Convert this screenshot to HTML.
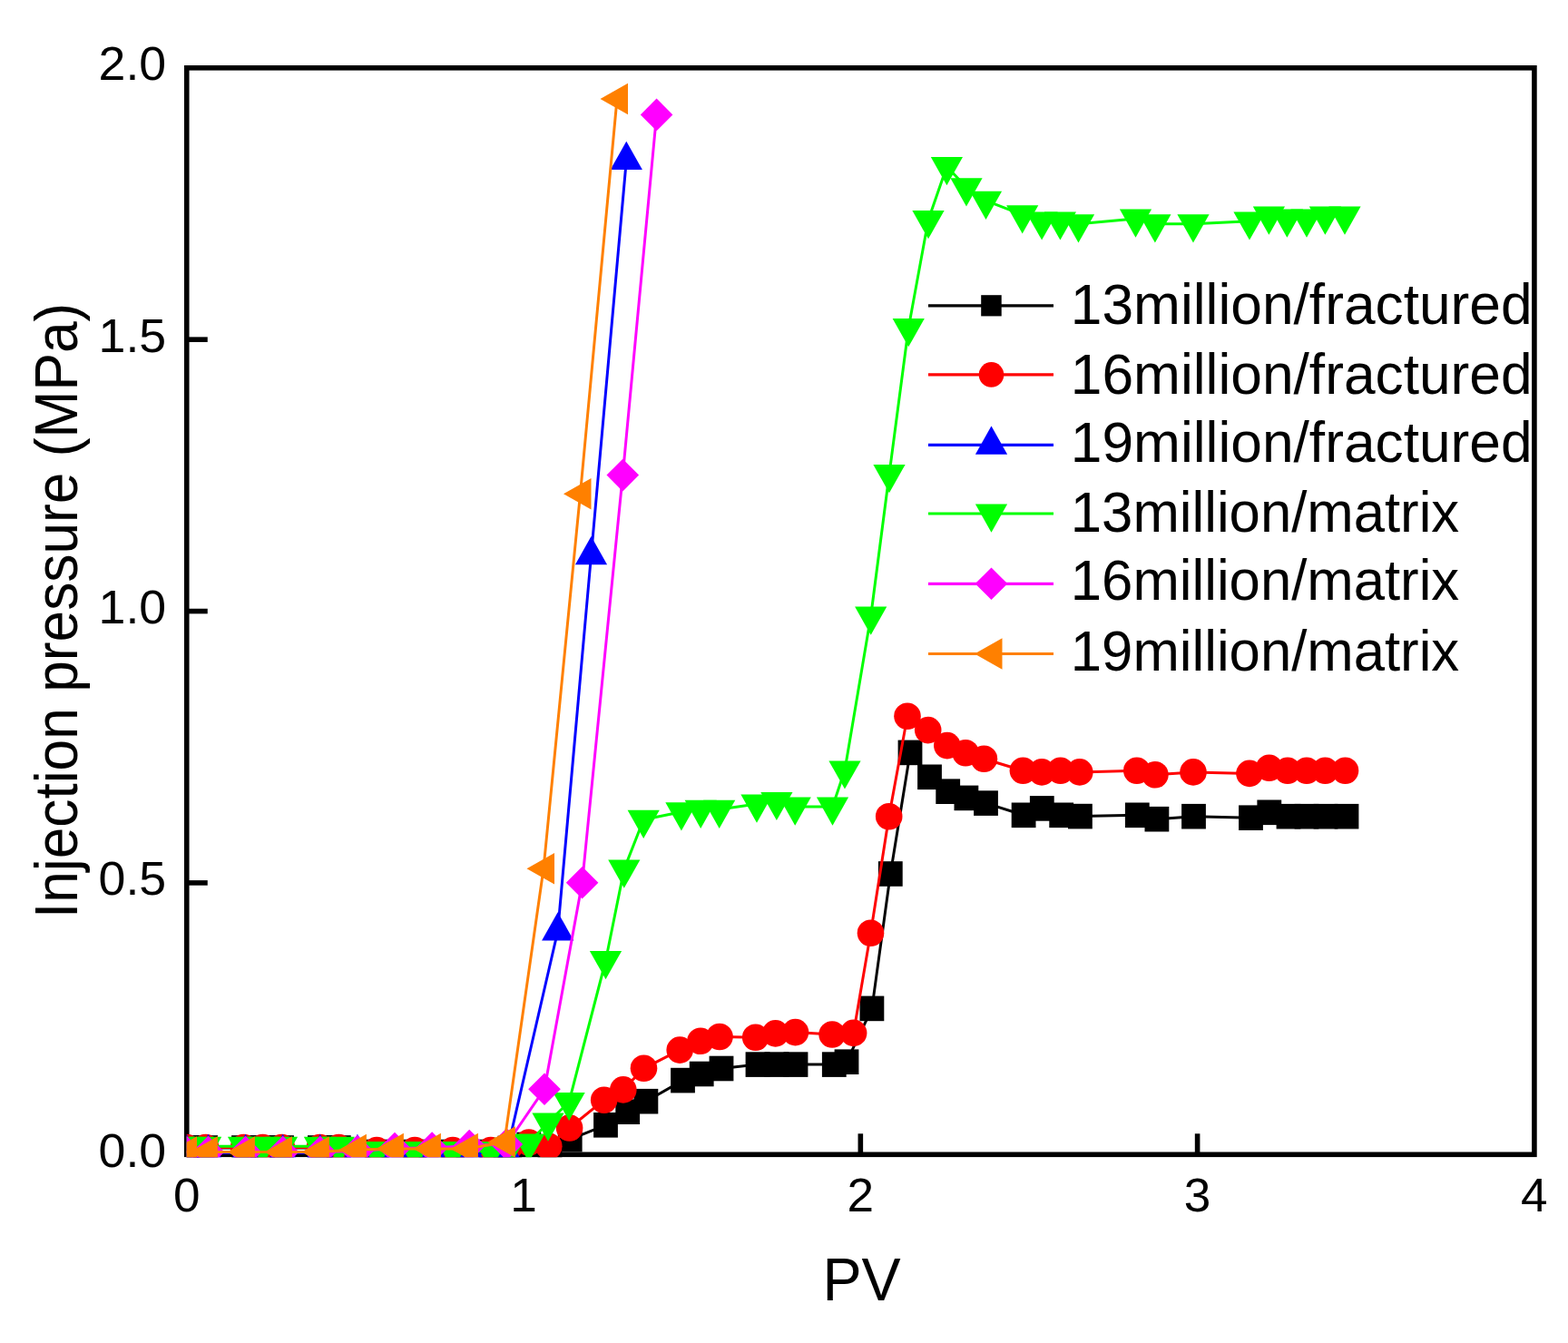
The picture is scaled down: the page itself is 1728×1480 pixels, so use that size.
<!DOCTYPE html>
<html lang="en">
<head>
<meta charset="utf-8">
<title>Injection pressure vs PV</title>
<style>
html,body{margin:0;padding:0;background:#ffffff;}
body{width:1728px;height:1480px;overflow:hidden;}
svg{display:block;}
text{font-family:"Liberation Sans",sans-serif;fill:#000000;}
</style>
</head>
<body>
<svg width="1728" height="1480" viewBox="0 0 1728 1480" role="img" aria-label="Injection pressure versus PV">
<rect x="0" y="0" width="1728" height="1480" fill="#ffffff"/>

<g fill="none" stroke="#000000" stroke-width="5.6" stroke-linecap="butt">
<rect x="205.75" y="74.80" width="1485.15" height="1197.50"/>
<line x1="577.04" y1="1272.30" x2="577.04" y2="1249.30"/>
<line x1="948.33" y1="1272.30" x2="948.33" y2="1249.30"/>
<line x1="1319.61" y1="1272.30" x2="1319.61" y2="1249.30"/>
<line x1="205.75" y1="972.92" x2="228.75" y2="972.92"/>
<line x1="205.75" y1="673.55" x2="228.75" y2="673.55"/>
<line x1="205.75" y1="374.17" x2="228.75" y2="374.17"/>
</g>
<defs><clipPath id="plot"><rect x="205.7" y="72.0" width="1485.3" height="1203.2"/></clipPath></defs>
<g clip-path="url(#plot)">
<g fill="#000000" stroke="none">
<polyline fill="none" stroke="#000000" stroke-width="3.0" stroke-linejoin="round" points="205.7,1265.0 226.6,1265.0 268.5,1265.0 289.5,1265.0 310.4,1265.0 352.4,1265.0 373.3,1265.0 415.2,1269.5 457.1,1269.5 499.0,1269.5 540.9,1269.5 561.8,1265.5 582.8,1261.5 606.0,1268.0 628.2,1255.7 667.5,1239.8 691.7,1225.2 711.9,1213.7 752.5,1190.6 773.2,1183.5 795.0,1177.5 835.0,1173.1 856.0,1173.1 877.0,1173.1 919.3,1173.1 933.0,1170.2 960.9,1111.4 981.3,963.0 1003.0,829.4 1024.5,856.3 1044.7,872.2 1064.9,879.4 1086.5,885.1 1128.1,898.3 1148.3,890.9 1169.7,898.3 1190.4,899.6 1253.3,898.3 1274.9,902.7 1315.5,899.7 1378.5,901.2 1398.8,895.3 1420.0,899.7 1440.0,899.7 1461.0,899.7 1484.0,899.7"/>
<rect x="192.3" y="1251.2" width="26.8" height="27.6"/>
<rect x="213.2" y="1251.2" width="26.8" height="27.6"/>
<rect x="255.1" y="1251.2" width="26.8" height="27.6"/>
<rect x="276.1" y="1251.2" width="26.8" height="27.6"/>
<rect x="297.1" y="1251.2" width="26.8" height="27.6"/>
<rect x="339.0" y="1251.2" width="26.8" height="27.6"/>
<rect x="359.9" y="1251.2" width="26.8" height="27.6"/>
<rect x="401.8" y="1255.7" width="26.8" height="27.6"/>
<rect x="443.7" y="1255.7" width="26.8" height="27.6"/>
<rect x="485.6" y="1255.7" width="26.8" height="27.6"/>
<rect x="527.5" y="1255.7" width="26.8" height="27.6"/>
<rect x="548.4" y="1251.7" width="26.8" height="27.6"/>
<rect x="569.4" y="1247.7" width="26.8" height="27.6"/>
<rect x="592.6" y="1254.2" width="26.8" height="27.6"/>
<rect x="614.8" y="1241.9" width="26.8" height="27.6"/>
<rect x="654.1" y="1226.0" width="26.8" height="27.6"/>
<rect x="678.3" y="1211.4" width="26.8" height="27.6"/>
<rect x="698.5" y="1199.9" width="26.8" height="27.6"/>
<rect x="739.1" y="1176.8" width="26.8" height="27.6"/>
<rect x="759.8" y="1169.7" width="26.8" height="27.6"/>
<rect x="781.6" y="1163.7" width="26.8" height="27.6"/>
<rect x="821.6" y="1159.3" width="26.8" height="27.6"/>
<rect x="842.6" y="1159.3" width="26.8" height="27.6"/>
<rect x="863.6" y="1159.3" width="26.8" height="27.6"/>
<rect x="905.9" y="1159.3" width="26.8" height="27.6"/>
<rect x="919.6" y="1156.4" width="26.8" height="27.6"/>
<rect x="947.5" y="1097.6" width="26.8" height="27.6"/>
<rect x="967.9" y="949.2" width="26.8" height="27.6"/>
<rect x="989.6" y="815.6" width="26.8" height="27.6"/>
<rect x="1011.1" y="842.5" width="26.8" height="27.6"/>
<rect x="1031.3" y="858.4" width="26.8" height="27.6"/>
<rect x="1051.5" y="865.6" width="26.8" height="27.6"/>
<rect x="1073.1" y="871.3" width="26.8" height="27.6"/>
<rect x="1114.7" y="884.5" width="26.8" height="27.6"/>
<rect x="1134.9" y="877.1" width="26.8" height="27.6"/>
<rect x="1156.3" y="884.5" width="26.8" height="27.6"/>
<rect x="1177.0" y="885.8" width="26.8" height="27.6"/>
<rect x="1239.9" y="884.5" width="26.8" height="27.6"/>
<rect x="1261.5" y="888.9" width="26.8" height="27.6"/>
<rect x="1302.1" y="885.9" width="26.8" height="27.6"/>
<rect x="1365.1" y="887.4" width="26.8" height="27.6"/>
<rect x="1385.4" y="881.5" width="26.8" height="27.6"/>
<rect x="1406.6" y="885.9" width="26.8" height="27.6"/>
<rect x="1426.6" y="885.9" width="26.8" height="27.6"/>
<rect x="1447.6" y="885.9" width="26.8" height="27.6"/>
<rect x="1470.6" y="885.9" width="26.8" height="27.6"/>
</g>
<g fill="#ff0000" stroke="none">
<polyline fill="none" stroke="#ff0000" stroke-width="3.0" stroke-linejoin="round" points="205.7,1264.5 226.6,1264.5 268.5,1264.5 289.5,1264.5 310.4,1264.5 352.4,1264.5 373.3,1264.5 415.2,1267.5 457.1,1267.5 499.0,1267.5 540.9,1267.5 561.8,1263.2 582.8,1259.0 604.8,1263.3 627.6,1243.0 665.7,1212.2 686.8,1200.9 709.5,1177.3 749.2,1157.1 772.0,1147.3 793.0,1142.5 832.7,1143.3 854.6,1138.9 876.5,1137.6 917.1,1140.0 940.6,1138.4 959.5,1028.3 979.7,899.8 1000.0,789.2 1022.7,804.6 1043.8,821.6 1064.1,829.7 1084.4,836.2 1127.4,849.2 1148.1,850.9 1168.7,849.2 1189.8,850.9 1252.8,849.2 1272.9,853.7 1315.0,850.9 1377.0,852.4 1398.7,846.3 1419.0,849.2 1440.0,849.2 1460.4,849.2 1482.5,849.2"/>
<circle cx="205.7" cy="1264.5" r="14.8"/>
<circle cx="226.6" cy="1264.5" r="14.8"/>
<circle cx="268.5" cy="1264.5" r="14.8"/>
<circle cx="289.5" cy="1264.5" r="14.8"/>
<circle cx="310.4" cy="1264.5" r="14.8"/>
<circle cx="352.4" cy="1264.5" r="14.8"/>
<circle cx="373.3" cy="1264.5" r="14.8"/>
<circle cx="415.2" cy="1267.5" r="14.8"/>
<circle cx="457.1" cy="1267.5" r="14.8"/>
<circle cx="499.0" cy="1267.5" r="14.8"/>
<circle cx="540.9" cy="1267.5" r="14.8"/>
<circle cx="561.8" cy="1263.2" r="14.8"/>
<circle cx="582.8" cy="1259.0" r="14.8"/>
<circle cx="604.8" cy="1263.3" r="14.8"/>
<circle cx="627.6" cy="1243.0" r="14.8"/>
<circle cx="665.7" cy="1212.2" r="14.8"/>
<circle cx="686.8" cy="1200.9" r="14.8"/>
<circle cx="709.5" cy="1177.3" r="14.8"/>
<circle cx="749.2" cy="1157.1" r="14.8"/>
<circle cx="772.0" cy="1147.3" r="14.8"/>
<circle cx="793.0" cy="1142.5" r="14.8"/>
<circle cx="832.7" cy="1143.3" r="14.8"/>
<circle cx="854.6" cy="1138.9" r="14.8"/>
<circle cx="876.5" cy="1137.6" r="14.8"/>
<circle cx="917.1" cy="1140.0" r="14.8"/>
<circle cx="940.6" cy="1138.4" r="14.8"/>
<circle cx="959.5" cy="1028.3" r="14.8"/>
<circle cx="979.7" cy="899.8" r="14.8"/>
<circle cx="1000.0" cy="789.2" r="14.8"/>
<circle cx="1022.7" cy="804.6" r="14.8"/>
<circle cx="1043.8" cy="821.6" r="14.8"/>
<circle cx="1064.1" cy="829.7" r="14.8"/>
<circle cx="1084.4" cy="836.2" r="14.8"/>
<circle cx="1127.4" cy="849.2" r="14.8"/>
<circle cx="1148.1" cy="850.9" r="14.8"/>
<circle cx="1168.7" cy="849.2" r="14.8"/>
<circle cx="1189.8" cy="850.9" r="14.8"/>
<circle cx="1252.8" cy="849.2" r="14.8"/>
<circle cx="1272.9" cy="853.7" r="14.8"/>
<circle cx="1315.0" cy="850.9" r="14.8"/>
<circle cx="1377.0" cy="852.4" r="14.8"/>
<circle cx="1398.7" cy="846.3" r="14.8"/>
<circle cx="1419.0" cy="849.2" r="14.8"/>
<circle cx="1440.0" cy="849.2" r="14.8"/>
<circle cx="1460.4" cy="849.2" r="14.8"/>
<circle cx="1482.5" cy="849.2" r="14.8"/>
</g>
<g fill="#0000ff" stroke="none">
<polyline fill="none" stroke="#0000ff" stroke-width="3.0" stroke-linejoin="round" points="205.7,1270.5 229.5,1270.5 270.6,1270.5 311.7,1270.5 352.8,1270.5 393.9,1270.5 435.0,1270.5 476.1,1270.5 517.2,1270.5 558.3,1270.5 614.7,1026.0 651.5,611.9 690.3,176.5"/>
<polygon points="188.1,1280.9 223.3,1280.9 205.7,1249.7"/>
<polygon points="211.9,1280.9 247.1,1280.9 229.5,1249.7"/>
<polygon points="253.0,1280.9 288.2,1280.9 270.6,1249.7"/>
<polygon points="294.1,1280.9 329.3,1280.9 311.7,1249.7"/>
<polygon points="335.2,1280.9 370.4,1280.9 352.8,1249.7"/>
<polygon points="376.3,1280.9 411.5,1280.9 393.9,1249.7"/>
<polygon points="417.4,1280.9 452.6,1280.9 435.0,1249.7"/>
<polygon points="458.5,1280.9 493.7,1280.9 476.1,1249.7"/>
<polygon points="499.6,1280.9 534.8,1280.9 517.2,1249.7"/>
<polygon points="540.7,1280.9 575.9,1280.9 558.3,1249.7"/>
<polygon points="597.1,1036.4 632.3,1036.4 614.7,1005.2"/>
<polygon points="633.9,622.3 669.1,622.3 651.5,591.1"/>
<polygon points="672.7,186.9 707.9,186.9 690.3,155.7"/>
</g>
<g fill="#00ff00" stroke="none">
<polyline fill="none" stroke="#00ff00" stroke-width="3.0" stroke-linejoin="round" points="205.7,1263.2 226.6,1263.2 268.5,1263.2 289.5,1263.2 310.4,1263.2 352.4,1263.2 373.3,1263.2 415.2,1268.5 457.1,1268.5 499.0,1268.5 540.9,1268.5 561.8,1264.2 582.8,1259.8 604.0,1237.0 627.1,1214.3 667.5,1058.5 687.8,957.9 709.2,903.2 750.9,894.7 772.2,892.1 792.7,892.1 834.0,886.0 855.9,883.3 876.2,889.0 917.5,889.0 931.0,848.8 959.7,679.0 980.0,522.5 1001.2,361.5 1023.0,242.5 1043.4,183.4 1065.0,206.6 1086.5,221.2 1126.7,236.6 1148.1,243.8 1168.4,243.8 1188.5,246.7 1251.5,241.0 1272.9,246.7 1315.0,246.7 1377.0,243.8 1398.4,238.0 1418.4,241.0 1440.0,241.0 1460.4,238.0 1482.0,238.0"/>
<polygon points="188.1,1252.8 223.3,1252.8 205.7,1284.0"/>
<polygon points="209.0,1252.8 244.2,1252.8 226.6,1284.0"/>
<polygon points="250.9,1252.8 286.1,1252.8 268.5,1284.0"/>
<polygon points="271.9,1252.8 307.1,1252.8 289.5,1284.0"/>
<polygon points="292.8,1252.8 328.1,1252.8 310.4,1284.0"/>
<polygon points="334.8,1252.8 370.0,1252.8 352.4,1284.0"/>
<polygon points="355.7,1252.8 390.9,1252.8 373.3,1284.0"/>
<polygon points="397.6,1258.1 432.8,1258.1 415.2,1289.3"/>
<polygon points="439.5,1258.1 474.7,1258.1 457.1,1289.3"/>
<polygon points="481.4,1258.1 516.6,1258.1 499.0,1289.3"/>
<polygon points="523.3,1258.1 558.5,1258.1 540.9,1289.3"/>
<polygon points="544.2,1253.8 579.4,1253.8 561.8,1285.0"/>
<polygon points="565.2,1249.4 600.4,1249.4 582.8,1280.6"/>
<polygon points="586.4,1226.6 621.6,1226.6 604.0,1257.8"/>
<polygon points="609.5,1203.9 644.7,1203.9 627.1,1235.1"/>
<polygon points="649.9,1048.1 685.1,1048.1 667.5,1079.3"/>
<polygon points="670.2,947.5 705.4,947.5 687.8,978.7"/>
<polygon points="691.6,892.8 726.8,892.8 709.2,924.0"/>
<polygon points="733.3,884.3 768.5,884.3 750.9,915.5"/>
<polygon points="754.6,881.7 789.8,881.7 772.2,912.9"/>
<polygon points="775.1,881.7 810.3,881.7 792.7,912.9"/>
<polygon points="816.4,875.6 851.6,875.6 834.0,906.8"/>
<polygon points="838.3,872.9 873.5,872.9 855.9,904.1"/>
<polygon points="858.6,878.6 893.8,878.6 876.2,909.8"/>
<polygon points="899.9,878.6 935.1,878.6 917.5,909.8"/>
<polygon points="913.4,838.4 948.6,838.4 931.0,869.6"/>
<polygon points="942.1,668.6 977.3,668.6 959.7,699.8"/>
<polygon points="962.4,512.1 997.6,512.1 980.0,543.3"/>
<polygon points="983.6,351.1 1018.8,351.1 1001.2,382.3"/>
<polygon points="1005.4,232.1 1040.6,232.1 1023.0,263.3"/>
<polygon points="1025.8,173.0 1061.0,173.0 1043.4,204.2"/>
<polygon points="1047.4,196.2 1082.6,196.2 1065.0,227.4"/>
<polygon points="1068.9,210.8 1104.1,210.8 1086.5,242.0"/>
<polygon points="1109.1,226.2 1144.3,226.2 1126.7,257.4"/>
<polygon points="1130.5,233.4 1165.7,233.4 1148.1,264.6"/>
<polygon points="1150.8,233.4 1186.0,233.4 1168.4,264.6"/>
<polygon points="1170.9,236.3 1206.1,236.3 1188.5,267.5"/>
<polygon points="1233.9,230.6 1269.1,230.6 1251.5,261.8"/>
<polygon points="1255.3,236.3 1290.5,236.3 1272.9,267.5"/>
<polygon points="1297.4,236.3 1332.6,236.3 1315.0,267.5"/>
<polygon points="1359.4,233.4 1394.6,233.4 1377.0,264.6"/>
<polygon points="1380.8,227.6 1416.0,227.6 1398.4,258.8"/>
<polygon points="1400.8,230.6 1436.0,230.6 1418.4,261.8"/>
<polygon points="1422.4,230.6 1457.6,230.6 1440.0,261.8"/>
<polygon points="1442.8,227.6 1478.0,227.6 1460.4,258.8"/>
<polygon points="1464.4,227.6 1499.6,227.6 1482.0,258.8"/>
</g>
<g fill="#ff00ff" stroke="none">
<polyline fill="none" stroke="#ff00ff" stroke-width="3.0" stroke-linejoin="round" points="205.7,1269.5 229.5,1269.5 270.6,1269.5 311.7,1269.5 352.8,1269.5 393.9,1268.5 435.0,1265.5 476.1,1265.0 517.2,1262.5 558.3,1261.0 600.0,1200.2 641.6,972.7 686.3,523.6 723.6,126.4"/>
<polygon points="187.9,1269.5 205.7,1251.7 223.5,1269.5 205.7,1287.3"/>
<polygon points="211.7,1269.5 229.5,1251.7 247.3,1269.5 229.5,1287.3"/>
<polygon points="252.8,1269.5 270.6,1251.7 288.4,1269.5 270.6,1287.3"/>
<polygon points="293.9,1269.5 311.7,1251.7 329.5,1269.5 311.7,1287.3"/>
<polygon points="335.0,1269.5 352.8,1251.7 370.6,1269.5 352.8,1287.3"/>
<polygon points="376.1,1268.5 393.9,1250.7 411.7,1268.5 393.9,1286.3"/>
<polygon points="417.2,1265.5 435.0,1247.7 452.8,1265.5 435.0,1283.3"/>
<polygon points="458.3,1265.0 476.1,1247.2 493.9,1265.0 476.1,1282.8"/>
<polygon points="499.4,1262.5 517.2,1244.7 535.0,1262.5 517.2,1280.3"/>
<polygon points="540.5,1261.0 558.3,1243.2 576.1,1261.0 558.3,1278.8"/>
<polygon points="582.2,1200.2 600.0,1182.4 617.8,1200.2 600.0,1218.0"/>
<polygon points="623.8,972.7 641.6,954.9 659.4,972.7 641.6,990.5"/>
<polygon points="668.5,523.6 686.3,505.8 704.1,523.6 686.3,541.4"/>
<polygon points="705.8,126.4 723.6,108.6 741.4,126.4 723.6,144.2"/>
</g>
<g fill="#ff8000" stroke="none">
<polyline fill="none" stroke="#ff8000" stroke-width="3.0" stroke-linejoin="round" points="205.0,1269.5 227.9,1269.5 268.9,1269.5 309.9,1269.5 350.9,1269.5 391.9,1267.0 432.9,1266.0 473.9,1266.0 514.9,1266.0 555.9,1258.5 599.0,957.3 639.5,544.2 680.0,109.0"/>
<polygon points="217.0,1252.3 217.0,1286.7 186.5,1269.5"/>
<polygon points="239.9,1252.3 239.9,1286.7 209.4,1269.5"/>
<polygon points="280.9,1252.3 280.9,1286.7 250.4,1269.5"/>
<polygon points="321.9,1252.3 321.9,1286.7 291.4,1269.5"/>
<polygon points="362.9,1252.3 362.9,1286.7 332.4,1269.5"/>
<polygon points="403.9,1249.8 403.9,1284.2 373.4,1267.0"/>
<polygon points="444.9,1248.8 444.9,1283.2 414.4,1266.0"/>
<polygon points="485.9,1248.8 485.9,1283.2 455.4,1266.0"/>
<polygon points="526.9,1248.8 526.9,1283.2 496.4,1266.0"/>
<polygon points="567.9,1241.3 567.9,1275.7 537.4,1258.5"/>
<polygon points="611.0,940.1 611.0,974.5 580.5,957.3"/>
<polygon points="651.5,527.0 651.5,561.4 621.0,544.2"/>
<polygon points="692.0,91.8 692.0,126.2 661.5,109.0"/>
</g>
</g>
<text transform="translate(183.20 1285.80) scale(1.0400 1)" font-size="51.60" text-anchor="end">0.0</text>
<text transform="translate(183.20 986.42) scale(1.0400 1)" font-size="51.60" text-anchor="end">0.5</text>
<text transform="translate(183.20 687.05) scale(1.0400 1)" font-size="51.60" text-anchor="end">1.0</text>
<text transform="translate(183.20 387.67) scale(1.0400 1)" font-size="51.60" text-anchor="end">1.5</text>
<text transform="translate(183.20 88.30) scale(1.0400 1)" font-size="51.60" text-anchor="end">2.0</text>
<text transform="translate(205.75 1335.40) scale(1.0300 1)" font-size="51.60" text-anchor="middle">0</text>
<text transform="translate(577.04 1335.40) scale(1.0300 1)" font-size="51.60" text-anchor="middle">1</text>
<text transform="translate(948.33 1335.40) scale(1.0300 1)" font-size="51.60" text-anchor="middle">2</text>
<text transform="translate(1319.61 1335.40) scale(1.0300 1)" font-size="51.60" text-anchor="middle">3</text>
<text transform="translate(1690.90 1335.40) scale(1.0300 1)" font-size="51.60" text-anchor="middle">4</text>
<text transform="translate(949.60 1433.40) scale(0.9800 1)" font-size="66.00" text-anchor="middle">PV</text>
<text transform="translate(84.7 672.9) rotate(-90) scale(0.944 1)" font-size="66.00" text-anchor="middle">Injection pressure (MPa)</text>
<g fill="#000000">
<line x1="1023" y1="336.8" x2="1161" y2="336.8" stroke="#000000" stroke-width="3.2"/>
<rect x="1081.2" y="325.2" width="22.5" height="23.2"/>
</g>
<text transform="translate(1179.80 356.60) scale(0.9840 1)" font-size="63.30" text-anchor="start">13million/fractured</text>
<g fill="#ff0000">
<line x1="1023" y1="412.9" x2="1161" y2="412.9" stroke="#ff0000" stroke-width="3.2"/>
<circle cx="1092.5" cy="412.9" r="13.8"/>
</g>
<text transform="translate(1179.80 433.60) scale(0.9840 1)" font-size="63.30" text-anchor="start">16million/fractured</text>
<g fill="#0000ff">
<line x1="1023" y1="490.4" x2="1161" y2="490.4" stroke="#0000ff" stroke-width="3.2"/>
<polygon points="1074.9,500.8 1110.1,500.8 1092.5,469.6"/>
</g>
<text transform="translate(1179.80 509.20) scale(0.9840 1)" font-size="63.30" text-anchor="start">19million/fractured</text>
<g fill="#00ff00">
<line x1="1023" y1="566.0" x2="1161" y2="566.0" stroke="#00ff00" stroke-width="3.2"/>
<polygon points="1074.9,555.6 1110.1,555.6 1092.5,586.8"/>
</g>
<text transform="translate(1179.80 586.40) scale(0.9745 1)" font-size="63.30" text-anchor="start">13million/matrix</text>
<g fill="#ff00ff">
<line x1="1023" y1="643.3" x2="1161" y2="643.3" stroke="#ff00ff" stroke-width="3.2"/>
<polygon points="1074.7,643.3 1092.5,625.5 1110.3,643.3 1092.5,661.1"/>
</g>
<text transform="translate(1179.80 661.40) scale(0.9745 1)" font-size="63.30" text-anchor="start">16million/matrix</text>
<g fill="#ff8000">
<line x1="1023" y1="720.5" x2="1161" y2="720.5" stroke="#ff8000" stroke-width="3.2"/>
<polygon points="1104.5,703.3 1104.5,737.7 1074.0,720.5"/>
</g>
<text transform="translate(1179.80 739.00) scale(0.9745 1)" font-size="63.30" text-anchor="start">19million/matrix</text>
</svg>
</body>
</html>
